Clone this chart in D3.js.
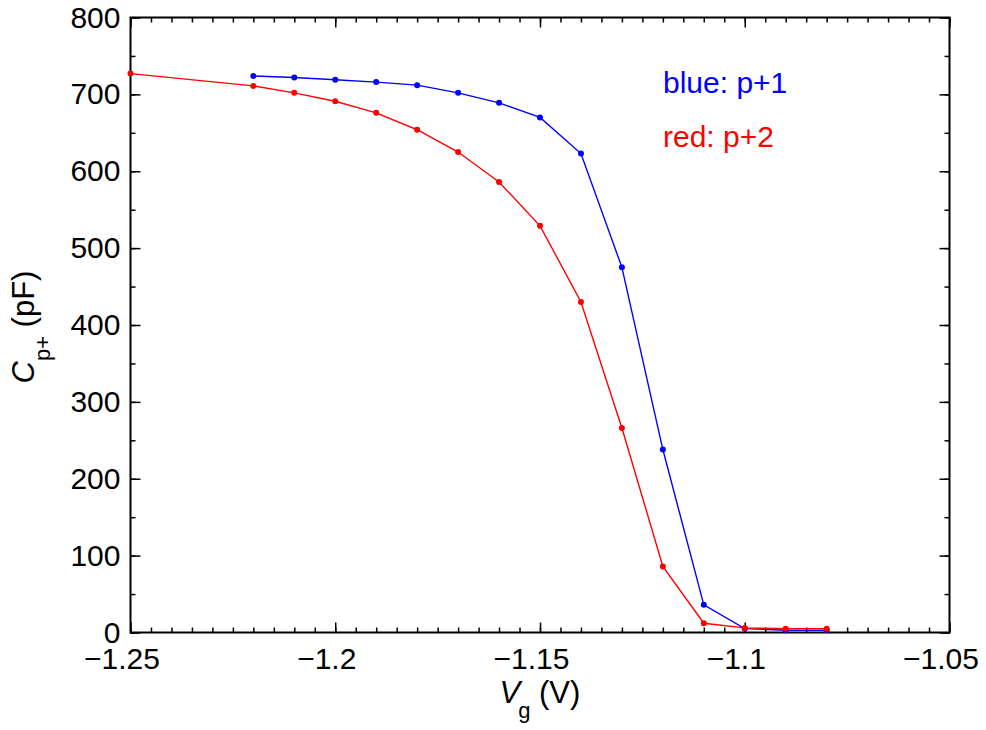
<!DOCTYPE html>
<html>
<head>
<meta charset="utf-8">
<script src="https://cdnjs.cloudflare.com/ajax/libs/d3/7.8.5/d3.min.js"></script>
<style>
  body { margin: 0; background: #fff; }
  svg text { font-family: "Liberation Sans", Arial, sans-serif; }
</style>
</head>
<body>
<div id="chart"></div>
<script>
// gate voltage (V) and capacitance (pF)
var vgBlue = [-1.22, -1.21, -1.20, -1.19, -1.18, -1.17, -1.16, -1.15, -1.14, -1.13, -1.12, -1.11, -1.10, -1.09, -1.08];
var capBlue = [724, 722, 719, 716, 712, 702, 689, 670, 623, 475, 238, 36, 5, 3, 3];
var vgRed = [-1.25, -1.22, -1.21, -1.20, -1.19, -1.18, -1.17, -1.16, -1.15, -1.14, -1.13, -1.12, -1.11, -1.10, -1.09, -1.08];
var capRed = [727, 711, 702, 691, 676, 654, 625, 586, 529, 430, 266, 86, 12, 6, 5, 5];
var xTicks = [-1.25, -1.2, -1.15, -1.1, -1.05];
var yTicks = [0, 100, 200, 300, 400, 500, 600, 700, 800];

var W = 986, H = 730;
var margin = {top: 17.5, right: 36.5, bottom: 97.5, left: 130.5};
var width = W - margin.left - margin.right,
    height = H - margin.top - margin.bottom;

var x = d3.scaleLinear().domain([-1.25, -1.05]).range([0, width]);
var y = d3.scaleLinear().domain([0, 800]).range([height, 0]);

var svg = d3.select("#chart").append("svg")
    .attr("width", W)
    .attr("height", H)
  .append("g")
    .attr("transform", "translate(" + margin.left + "," + margin.top + ")");

var fmt = function(d) { return d3.format("")(d).replace("-", "\u2212"); };
var xMinor = d3.range(0, 41).map(function(i) { return -1.25 + i * 0.005; });
var yMinor = d3.range(0, 17).map(function(i) { return i * 50; });

function tickAxis(axis) {
  return function(g) {
    g.call(axis);
    g.select(".domain").remove();
    g.selectAll("line").attr("stroke", "#000").attr("stroke-width", 1.5);
  };
}

// minor ticks, all four sides, pointing inward
svg.append("g").attr("transform", "translate(0," + height + ")")
    .call(tickAxis(d3.axisBottom(x).tickValues(xMinor).tickSize(-5).tickFormat("")));
svg.append("g")
    .call(tickAxis(d3.axisTop(x).tickValues(xMinor).tickSize(-5).tickFormat("")));
svg.append("g")
    .call(tickAxis(d3.axisLeft(y).tickValues(yMinor).tickSize(-5).tickFormat("")));
svg.append("g").attr("transform", "translate(" + width + ",0)")
    .call(tickAxis(d3.axisRight(y).tickValues(yMinor).tickSize(-5).tickFormat("")));

// major ticks with labels
var xAxis = svg.append("g")
    .attr("transform", "translate(0," + height + ")")
    .call(tickAxis(d3.axisBottom(x).tickValues(xTicks).tickSize(-10).tickPadding(15).tickFormat(fmt)));
xAxis.selectAll("text").attr("font-size", 30).attr("fill", "#000").attr("dx", -9);

var yAxis = svg.append("g")
    .call(tickAxis(d3.axisLeft(y).tickValues(yTicks).tickSize(-10).tickPadding(10).tickFormat(fmt)));
yAxis.selectAll("text").attr("font-size", 30).attr("fill", "#000");

svg.append("g")
    .call(tickAxis(d3.axisTop(x).tickValues(xTicks).tickSize(-10).tickFormat("")));
svg.append("g").attr("transform", "translate(" + width + ",0)")
    .call(tickAxis(d3.axisRight(y).tickValues(yTicks).tickSize(-10).tickFormat("")));

// frame
svg.append("rect")
    .attr("width", width)
    .attr("height", height)
    .attr("fill", "none")
    .attr("stroke", "#000")
    .attr("stroke-width", 2);

var line = d3.line()
    .x(function(d) { return x(d[0]); })
    .y(function(d) { return y(d[1]); });

var series = [
  {color: "#0000ff", values: d3.zip(vgBlue, capBlue)},
  {color: "#ff0000", values: d3.zip(vgRed, capRed)}
];

series.forEach(function(s) {
  svg.append("path")
      .datum(s.values)
      .attr("d", line)
      .attr("fill", "none")
      .attr("stroke", s.color)
      .attr("stroke-width", 1.4);
  svg.selectAll(null)
      .data(s.values)
      .enter().append("circle")
      .attr("cx", function(d) { return x(d[0]); })
      .attr("cy", function(d) { return y(d[1]); })
      .attr("r", 3)
      .attr("fill", s.color);
});

// legend text
svg.append("text")
    .attr("x", 532.5).attr("y", 75.5)
    .attr("font-size", 30).attr("fill", "#0000ff")
    .text("blue: p+1");
svg.append("text")
    .attr("x", 532.5).attr("y", 129.5)
    .attr("font-size", 30).attr("fill", "#ff0000")
    .text("red: p+2");

// axis titles
var xl = svg.append("text")
    .attr("x", 369)
    .attr("y", height + 70)
    .attr("font-size", 31);
xl.append("tspan").attr("font-style", "italic").text("V");
xl.append("tspan").attr("font-size", 22).attr("dy", 15).attr("dx", -2).text("g");
xl.append("tspan").attr("dy", -15).text(" (V)");

var yl = svg.append("text")
    .attr("transform", "translate(-97," + 366 + ") rotate(-90)")
    .attr("font-size", 31);
yl.append("tspan").attr("font-style", "italic").text("C");
yl.append("tspan").attr("font-size", 22).attr("dy", 16).text("p+");
yl.append("tspan").attr("dy", -16).text("  (pF)");
</script>
</body>
</html>
